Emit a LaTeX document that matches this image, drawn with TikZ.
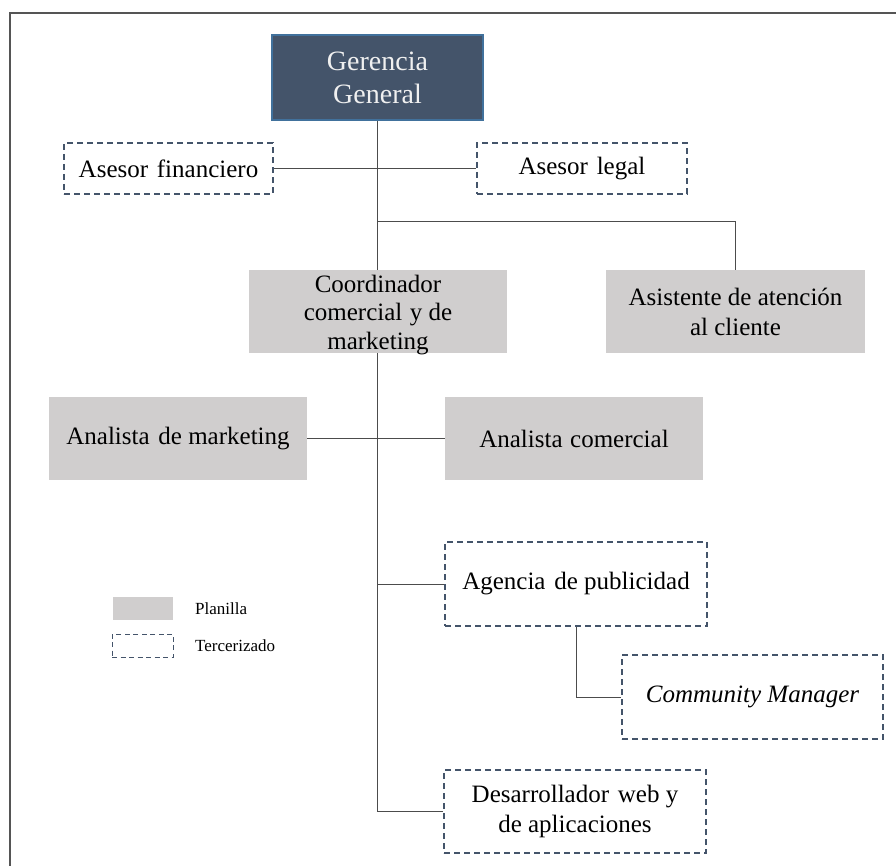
\documentclass[tikz,border=0pt]{standalone}
\usepackage{fontspec}
\setmainfont{Liberation Serif}
\usetikzlibrary{backgrounds}
\definecolor{navy}{HTML}{44546A}
\definecolor{boxgray}{HTML}{D0CECE}
\definecolor{edgeblue}{HTML}{41719C}
\definecolor{framegray}{HTML}{555555}
\tikzset{
  boxtext/.style={align=center, inner sep=0pt, font=\fontsize{25}{30}\selectfont},
  headbox/.style={boxtext, fill=navy, draw=edgeblue, line width=1.5pt, text=white!94!black,
    font=\fontsize{28}{33}\selectfont},
  staff/.style={boxtext, fill=boxgray, draw=none},
  outsourced/.style={boxtext, fill=white, draw=navy, line width=1.3pt,
    dash pattern=on 6pt off 4pt},
  link/.style={draw=black!70, line width=1pt},
  legendtext/.style={anchor=west, inner sep=0pt, font=\fontsize{17}{20}\selectfont},
}
\begin{document}
\begin{tikzpicture}[x=1pt,y=-1pt]
\useasboundingbox (0,0) rectangle (896,866);
% page frame (top and left edges)
\draw[line width=2pt, framegray] (10,866) -- (10,13) -- (896,13);

% top management
\node[headbox, minimum width=211, minimum height=85] (gg) at (377.5,77.5) {Gerencia\\General};

% advisors
\node[outsourced, minimum width=209, minimum height=51] (af) at (168.5,168.5) {Asesor\hspace{0.35em}financiero};
\node[outsourced, minimum width=210, minimum height=51] (al) at (582,168.5) {Asesor\hspace{0.35em}legal};

% second level
\node[staff, minimum width=258, minimum height=83] (cc) at (378,311.5) {};
\node[boxtext, font=\fontsize{25}{28.5}\selectfont] (cctext) at (378,315) {Coordinador\\comercial\hspace{0.3em}y de\\marketing};
\node[staff, minimum width=259, minimum height=83] (ac) at (735.5,311.5) {Asistente de atención\\al cliente};

% analysts
\node[staff, minimum width=258, minimum height=83] (am) at (178,438.5) {Analista\hspace{0.35em}de marketing};
\node[staff, minimum width=258, minimum height=83] (an) at (574,438.5) {Analista\hspace{0.3em}comercial};

% outsourced services
\node[outsourced, minimum width=262, minimum height=84] (ap) at (576,584) {Agencia\hspace{0.35em}de publicidad};
\node[outsourced, minimum width=261, minimum height=84] (cm) at (752.5,697) {\itshape Community Manager};
\node[outsourced, minimum width=262, minimum height=83] (dw) at (575,811.5) {Desarrollador\hspace{0.35em}web y\\de aplicaciones};

% legend
\node[staff, minimum width=60, minimum height=23] (lp) at (143,608.5) {};
\node[legendtext] (lpt) at (195,609) {Planilla};
\node[outsourced, line width=1pt, dash pattern=on 5pt off 3.5pt, minimum width=61, minimum height=23] (lt) at (142.5,645.5) {};
\node[legendtext] (ltt) at (195,646) {Tercerizado};

% connectors
\coordinate (split) at (378,222);
\begin{scope}[on background layer]
  \draw[link] (gg.south) |- (dw.west);
  \draw[link] (af.east) -- (al.west);
  \draw[link] (split) -| (ac.north);
  \draw[link] (am.east) -- (an.west);
  \draw[link] (ap.west) -- (ap.west -| gg.south);
  \draw[link] (ap.south) |- (cm.west);
\end{scope}
\end{tikzpicture}
\end{document}
